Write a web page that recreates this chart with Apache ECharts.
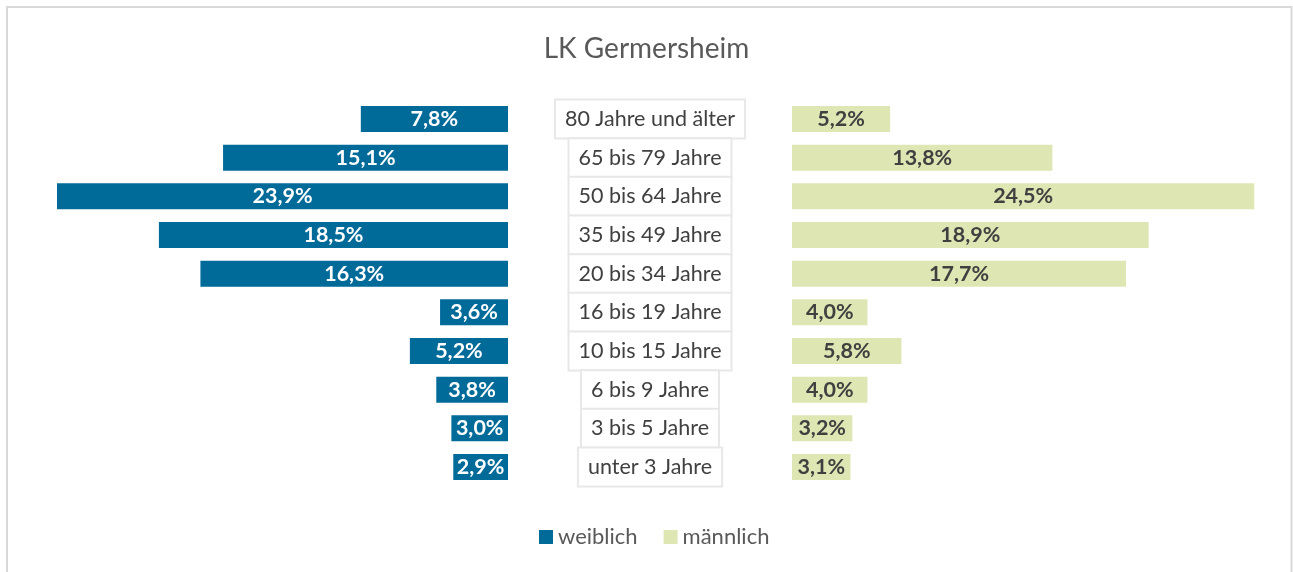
<!DOCTYPE html>
<html>
<head>
<meta charset="utf-8">
<script src="https://cdn.jsdelivr.net/npm/echarts@6/dist/echarts.min.js"></script>
<style>
html, body { margin: 0; padding: 0; background: #ffffff; }
#chart { width: 1293px; height: 572px; }
</style>
</head>
<body>
<div id="chart"></div>
<script>
// Age groups, top to bottom
const ageGroups = [
  '80 Jahre und älter', '65 bis 79 Jahre', '50 bis 64 Jahre', '35 bis 49 Jahre',
  '20 bis 34 Jahre', '16 bis 19 Jahre', '10 bis 15 Jahre', '6 bis 9 Jahre',
  '3 bis 5 Jahre', 'unter 3 Jahre'
];
// Share of each age group in percent
const weiblich = [7.8, 15.1, 23.9, 18.5, 16.3, 3.6, 5.2, 3.8, 3.0, 2.9];
const maennlich = [5.2, 13.8, 24.5, 18.9, 17.7, 4.0, 5.8, 4.0, 3.2, 3.1];
const seriesNames = ['weiblich', 'männlich'];
const chartTitle = 'LK Germersheim';

const BLUE = '#006a99';
const GREEN = '#dee6b3';
const FONT = 'Lato, "Open Sans", sans-serif';

const pct = v => v.toFixed(1).replace('.', ',') + '%';

const chart = echarts.init(document.getElementById('chart'), null, { renderer: 'canvas' });

const gridTop = 99.7, gridBottom = 572 - 486.3;
const scaleMax = 25;

chart.setOption({
  animation: false,
  backgroundColor: '#ffffff',
  title: {
    text: chartTitle,
    left: 'center',
    top: 30,
    textStyle: { fontFamily: FONT, fontSize: 28, fontWeight: 'normal', color: '#595959' }
  },
  legend: {
    data: seriesNames,
    bottom: 19,
    left: 534,
    itemWidth: 14,
    itemHeight: 14,
    itemGap: 26,
    icon: 'rect',
    textStyle: { fontFamily: FONT, fontSize: 22, color: '#595959' }
  },
  graphic: [{
    type: 'rect',
    shape: { x: 7, y: 7, width: 1284.5, height: 600 },
    style: { fill: 'none', stroke: '#d9d9d9', lineWidth: 2 },
    silent: true
  }],
  grid: [
    { left: 36.25, right: 785, top: gridTop, bottom: gridBottom },
    { left: 792, right: 29.25, top: gridTop, bottom: gridBottom }
  ],
  xAxis: [
    { gridIndex: 0, type: 'value', min: 0, max: scaleMax, inverse: true, show: false },
    { gridIndex: 1, type: 'value', min: 0, max: scaleMax, show: false }
  ],
  yAxis: [
    {
      gridIndex: 0, type: 'category', data: ageGroups, inverse: true, position: 'right',
      axisLine: { show: false }, axisTick: { show: false }, axisLabel: { show: false }
    },
    {
      gridIndex: 1, type: 'category', data: ageGroups, inverse: true, position: 'left',
      axisLine: { show: false }, axisTick: { show: false },
      axisLabel: {
        interval: 0,
        align: 'center',
        margin: 142,
        fontFamily: FONT,
        fontSize: 21.5,
        color: '#404040',
        lineHeight: 23,
        padding: [7, 9, 7, 9],
        backgroundColor: '#ffffff',
        borderColor: '#e8e8e8',
        borderWidth: 2
      }
    }
  ],
  series: [
    {
      name: seriesNames[0],
      type: 'bar',
      xAxisIndex: 0, yAxisIndex: 0,
      data: weiblich,
      barWidth: 26,
      itemStyle: { color: BLUE },
      label: {
        show: true, position: 'inside', formatter: p => pct(p.value),
        fontFamily: FONT, fontSize: 21.5, fontWeight: 'bold', color: '#ffffff'
      }
    },
    {
      name: seriesNames[1],
      type: 'bar',
      xAxisIndex: 1, yAxisIndex: 1,
      data: maennlich,
      barWidth: 26,
      itemStyle: { color: GREEN },
      label: {
        show: true, position: 'inside', formatter: p => pct(p.value),
        fontFamily: FONT, fontSize: 21.5, fontWeight: 'bold', color: '#404040'
      }
    }
  ]
});
</script>
</body>
</html>
